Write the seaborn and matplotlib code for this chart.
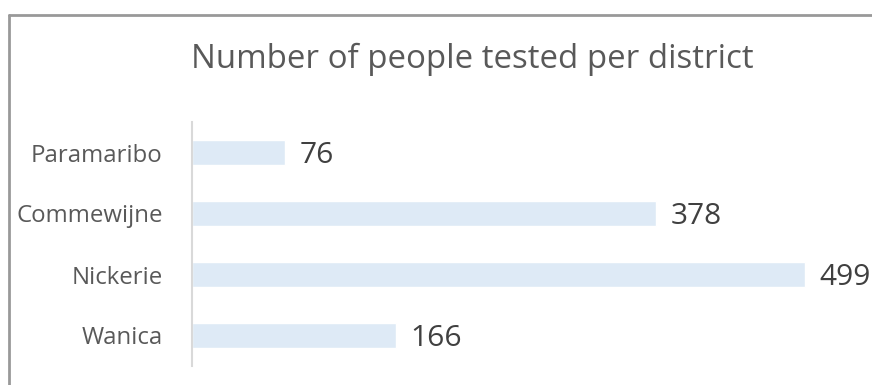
import matplotlib
matplotlib.use("Agg")
import matplotlib.pyplot as plt
import seaborn as sns
import pandas as pd
from matplotlib.lines import Line2D

districts = ["Paramaribo", "Commewijne", "Nickerie", "Wanica"]
tested = [76, 378, 499, 166]

df = pd.DataFrame({"district": districts, "tested": tested})

sns.set_theme(style="white")
plt.rcParams['font.family'] = ['Open Sans', 'DejaVu Sans']

fig = plt.figure(figsize=(8.72, 3.85), dpi=100)
ax = fig.add_axes([192/872, 19/385, 663/872, 244/385])

sns.barplot(data=df, x="tested", y="district", orient="h", color="#DEEAF6",
            width=0.4, ax=ax, saturation=1)
ax.set_xlim(0, 540)
ax.set_ylim(3.5, -0.5)
ax.set_xlabel("")
ax.set_ylabel("")
ax.set_xticks([])
for s in ["top", "right", "bottom"]:
    ax.spines[s].set_visible(False)
ax.spines["left"].set_color("#D9D9D9")
ax.spines["left"].set_linewidth(1.5)
ax.tick_params(axis="y", length=0, pad=21, labelsize=17.3, labelcolor="#595959")

for i, v in enumerate(tested):
    ax.text(v + 12, i + 0.05, str(v), va="center", ha="left", fontsize=21.5, color="#404040")

fig.text(472/872, 1 - 59/385, "Number of people tested per district",
         ha="center", va="center", fontsize=23.8, color="#595959")

# partial outer frame
fig.add_artist(Line2D([9/872, 9/872], [0, 1 - 15/385], transform=fig.transFigure,
                      color="#999999", linewidth=2))
fig.add_artist(Line2D([9/872, 1], [1 - 15/385, 1 - 15/385], transform=fig.transFigure,
                      color="#999999", linewidth=2))

fig.savefig("out.png", dpi=100)
